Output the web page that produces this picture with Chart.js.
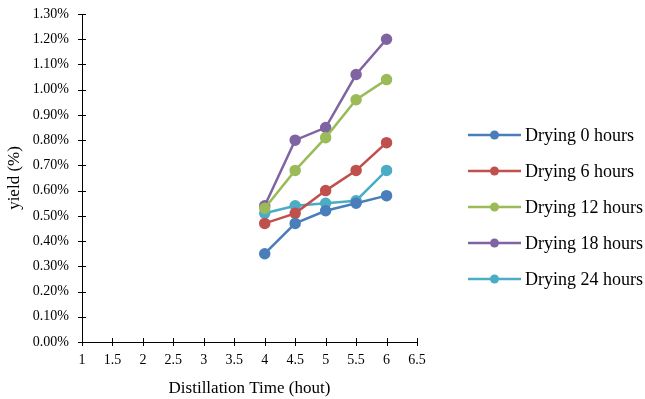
<!DOCTYPE html>
<html><head><meta charset="utf-8">
<script src="https://cdn.jsdelivr.net/npm/chart.js@4.4.0/dist/chart.umd.min.js"></script>
<style>html,body{margin:0;padding:0;background:#fff;}#wrap{width:645px;height:399px;}</style>
</head><body><div id="wrap"><canvas id="c" width="645" height="399"></canvas></div>
<script>
const hours = [4, 4.5, 5, 5.5, 6];
const seriesNames = ["Drying 0 hours","Drying 6 hours","Drying 12 hours","Drying 18 hours","Drying 24 hours"];
const dry0  = [0.35, 0.47, 0.52, 0.55, 0.58];
const dry6  = [0.47, 0.51, 0.60, 0.68, 0.79];
const dry12 = [0.53, 0.68, 0.81, 0.96, 1.04];
const dry18 = [0.54, 0.80, 0.85, 1.06, 1.20];
const dry24 = [0.51, 0.54, 0.55, 0.56, 0.68];
const colors = ["#4A7EBB","#C0504D","#9BBB59","#8064A2","#4BACC6"];
const allSeries = [dry0, dry6, dry12, dry18, dry24];
const FONT = "'Liberation Serif','Times New Roman',serif";

const datasets = allSeries.map((vals,i)=>({
  label: seriesNames[i],
  data: hours.map((h,j)=>({x:h,y:vals[j]})),
  borderColor: colors[i], backgroundColor: colors[i],
  pointBackgroundColor: colors[i], pointBorderColor: colors[i],
  borderWidth: 2.5, pointRadius: 4.5, pointHoverRadius: 4.5, tension: 0
}));

const crossTicks = {
  id:'crossTicks',
  afterDraw(chart){
    const ctx=chart.ctx, xs=chart.scales.x, ys=chart.scales.y, a=chart.chartArea;
    ctx.save(); ctx.strokeStyle='#000'; ctx.lineWidth=1;
    ys.ticks.forEach((t,i)=>{ const y=Math.round(ys.getPixelForTick(i))+0.5; ctx.beginPath(); ctx.moveTo(a.left-4,y); ctx.lineTo(a.left+4,y); ctx.stroke();});
    xs.ticks.forEach((t,i)=>{ const x=Math.round(xs.getPixelForTick(i))+0.5; ctx.beginPath(); ctx.moveTo(x,a.bottom+4); ctx.lineTo(x,a.bottom-4); ctx.stroke();});
    ctx.restore();
  }
};
const sideLegend = {
  id:'sideLegend',
  afterDraw(chart){
    const ctx=chart.ctx; ctx.save();
    ctx.font = "18px "+FONT; ctx.textBaseline='middle'; ctx.fillStyle='#000';
    chart.data.datasets.forEach((d,i)=>{
      const y = 135 + i*36;
      ctx.strokeStyle=d.borderColor; ctx.lineWidth=2.5;
      ctx.beginPath(); ctx.moveTo(468,y); ctx.lineTo(521,y); ctx.stroke();
      ctx.fillStyle=d.borderColor; ctx.beginPath(); ctx.arc(494.5,y,4.5,0,Math.PI*2); ctx.fill();
      ctx.fillStyle='#000'; ctx.fillText(d.label, 525, y+1);
    });
    ctx.restore();
  }
};

new Chart(document.getElementById('c'), {
  type:'line',
  data:{datasets},
  options:{
    responsive:false, animation:false,
    layout:{padding:{left:0,top:14,right:228,bottom:0}},
    plugins:{legend:{display:false}, tooltip:{enabled:false}},
    scales:{
      x:{type:'linear', min:1, max:6.5,
        ticks:{stepSize:0.5, color:'#000', font:{family:FONT,size:14}, padding:4, maxRotation:0, autoSkip:false,
          callback:v=>String(v)},
        grid:{drawOnChartArea:false, tickLength:6, color:'rgba(0,0,0,0)'},
        border:{color:'#000', width:1},
        title:{display:true, text:'Distillation Time (hout)', color:'#000', font:{family:FONT,size:17}, padding:{top:1,bottom:0}},
        afterFit(s){ s.height = 57; }
      },
      y:{min:0, max:1.3,
        ticks:{stepSize:0.1, color:'#000', font:{family:FONT,size:14}, padding:3,
          callback:v=>v.toFixed(2)+'%'},
        grid:{drawOnChartArea:false, tickLength:10, color:'rgba(0,0,0,0)'},
        border:{color:'#000', width:1},
        title:{display:true, text:'yield (%)', color:'#000', font:{family:FONT,size:17}, padding:{top:4,bottom:0}},
        afterFit(s){ s.width = 82; }
      }
    }
  },
  plugins:[crossTicks, sideLegend]
});
</script></body></html>
